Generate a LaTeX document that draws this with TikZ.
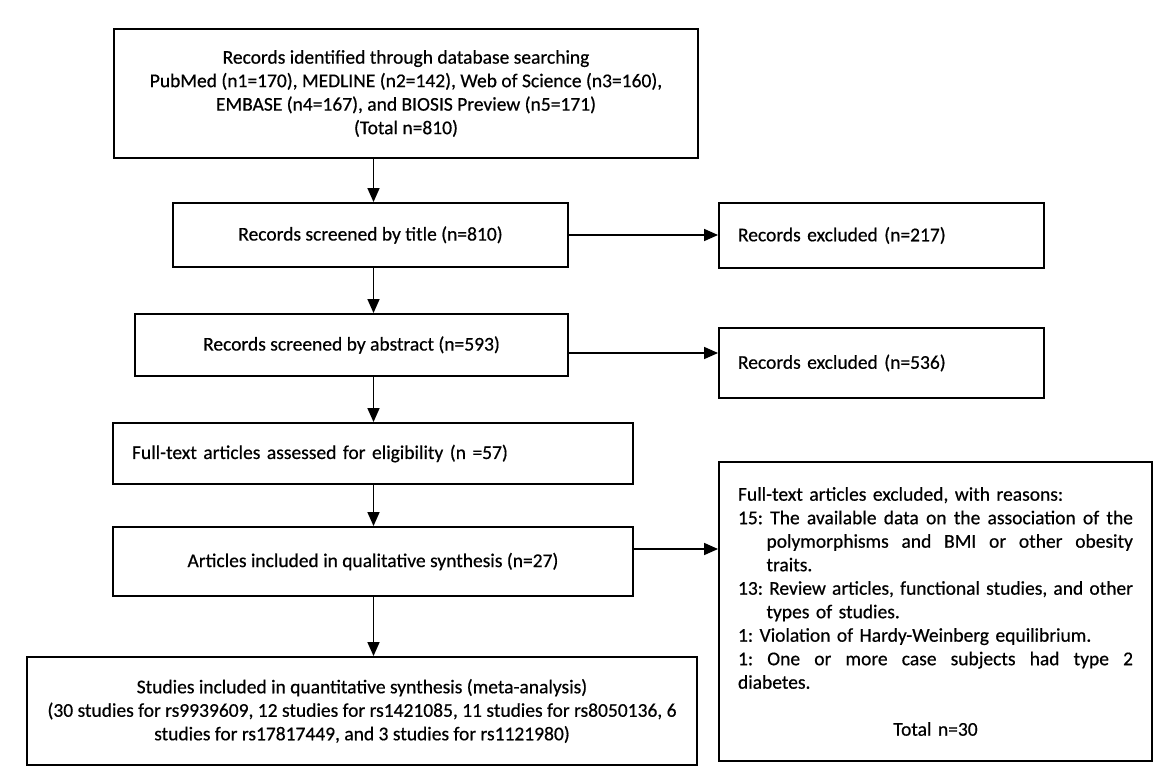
\documentclass[tikz,border=0pt]{standalone}
\usepackage{fontspec}
\setmainfont{Carlito}[FakeBold=0.5]
\usetikzlibrary{arrows.meta}
\newlength\rw
\setlength\rw{395pt}
\newlength\ri
\setlength\ri{28.5pt}
\newcommand\jline[2]{\leavevmode\hbox to #1{\spaceskip=.226em plus 1fil\relax #2}}
\frenchspacing
\begin{document}
\begin{tikzpicture}[x=1pt,y=-1pt,
  every node/.style={font=\fontsize{19.5pt}{23.5pt}\selectfont\frenchspacing},
  box/.style={draw, line width=1.9pt, rectangle, inner sep=0pt},
  lbox/.style={box, align=left, inner xsep=19pt},
  conn/.style={line width=1.5pt, -{Triangle[length=14pt,width=12pt]}}]
\useasboundingbox[fill=white] (0,0) rectangle (1172,784);

\node[box, minimum width=584pt, minimum height=129pt, align=center] (b1) at (406,93.5)
  {Records identified through database searching\\
   PubMed (n1=170), MEDLINE (n2=142), Web of Science (n3=160),\\
   EMBASE (n4=167), and BIOSIS Preview (n5=171)\\
   (Total n=810)};
\node[box, minimum width=395pt, minimum height=64pt] (b2) at (370.5,235)
  {Records screened by title (n=810)};
\node[lbox, text width=287pt, minimum height=65pt] (r1) at (881.5,235.5)
  {Records excluded (n=217)};
\node[box, minimum width=433pt, minimum height=62pt] (b3) at (351.5,345)
  {Records screened by abstract (n=593)};
\node[lbox, text width=287pt, minimum height=70pt] (r2) at (881.5,363)
  {Records excluded (n=536)};
\node[lbox, text width=482pt, minimum height=61pt] (b4) at (373,453.5)
  {Full-text articles assessed for eligibility (n =57)};
\node[box, minimum width=520pt, minimum height=69pt] (b5) at (373,561.5)
  {Articles included in qualitative synthesis (n=27)};
\node[lbox, text width=395pt, minimum height=299pt] (r3) at (935.5,611.5)
  {Full-text articles excluded, with reasons:\\
   \jline{\rw}{15: The available data on the association of the}\\
   \hspace*{\ri}\jline{\dimexpr\rw-\ri\relax}{polymorphisms and BMI or other obesity}\\
   \hspace*{\ri}traits.\\
   \jline{\rw}{13: Review articles, functional studies, and other}\\
   \hspace*{\ri}types of studies.\\
   1: Violation of Hardy-Weinberg equilibrium.\\
   \jline{\rw}{1: One or more case subjects had type 2}\\
   diabetes.\\[23.5pt]
   \makebox[\rw][c]{Total n=30}};
\node[box, minimum width=670pt, minimum height=108pt, align=center] (b6) at (362,711)
  {Studies included in quantitative synthesis (meta-analysis)\\
   (30 studies for rs9939609, 12 studies for rs1421085, 11 studies for rs8050136, 6\\
   studies for rs17817449, and 3 studies for rs1121980)};

\coordinate (ax) at (373.5,0);
\coordinate (y2) at (0,353);
\coordinate (y3) at (0,549);

\draw[conn] (b1.south -| ax) -- (b2.north -| ax);
\draw[conn] (b2.south -| ax) -- (b3.north -| ax);
\draw[conn] (b3.south -| ax) -- (b4.north -| ax);
\draw[conn] (b4.south -| ax) -- (b5.north -| ax);
\draw[conn] (b5.south -| ax) -- (b6.north -| ax);
\draw[conn] (b2.east) -- (b2.east -| r1.west);
\draw[conn] (b3.east |- y2) -- (r2.west |- y2);
\draw[conn] (b5.east |- y3) -- (r3.west |- y3);
\end{tikzpicture}
\end{document}
